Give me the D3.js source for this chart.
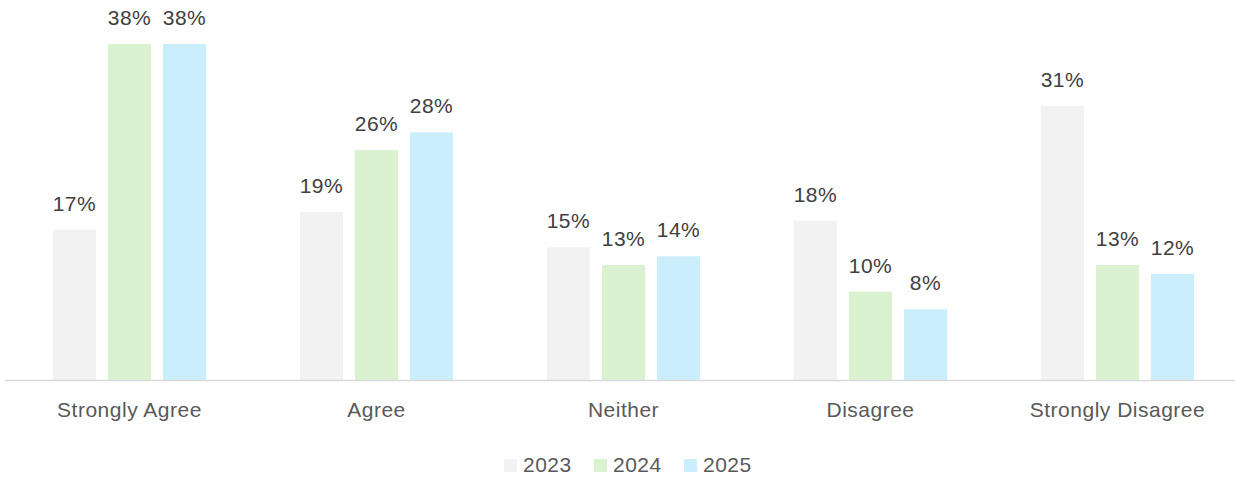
<!DOCTYPE html>
<html>
<head>
<meta charset="utf-8">
<script src="https://cdn.jsdelivr.net/npm/d3@7"></script>
<style>
  body { margin: 0; background: #fff; }
  svg text { font-family: "Liberation Sans", Arial, sans-serif; }
</style>
</head>
<body>
<div id="chart"></div>
<script>
var categories = ["Strongly Agree", "Agree", "Neither", "Disagree", "Strongly Disagree"];
var years = ["2023", "2024", "2025"];
var values2023 = [17, 19, 15, 18, 31];
var values2024 = [38, 26, 13, 10, 13];
var values2025 = [38, 28, 14, 8, 12];
var colors = ["#F2F2F2", "#DAF2D0", "#CAEEFB"];

var w = 1235, h = 479;
var margin = {left: 6, right: -6, top: 44, bottom: 99};
var seriesValues = [values2023, values2024, values2025];

var svg = d3.select("#chart").append("svg")
	.attr("width", w)
	.attr("height", h);

var x0 = d3.scaleBand()
	.domain(categories)
	.range([margin.left, w - margin.right])
	.paddingInner(0.38)
	.paddingOuter(0.19);

var x1 = d3.scaleBand()
	.domain(years)
	.range([0, x0.bandwidth()])
	.paddingInner(0.218);

var y = d3.scaleLinear()
	.domain([0, 38])
	.range([h - margin.bottom, margin.top]);

var rows = [];
categories.forEach(function(c, i) {
	years.forEach(function(yr, j) {
		rows.push({cat: c, year: yr, v: seriesValues[j][i], j: j});
	});
});

var g = svg.append("g");

g.selectAll("rect")
	.data(rows)
	.enter()
	.append("rect")
	.attr("x", function(d) { return x0(d.cat) + x1(d.year); })
	.attr("y", function(d) { return y(d.v); })
	.attr("width", x1.bandwidth())
	.attr("height", function(d) { return y(0) - y(d.v); })
	.attr("fill", function(d) { return colors[d.j]; });

g.selectAll(".lbl")
	.data(rows)
	.enter()
	.append("text")
	.attr("class", "lbl")
	.attr("x", function(d) { return x0(d.cat) + x1(d.year) + x1.bandwidth() / 2; })
	.attr("y", function(d) { return y(d.v) - 19; })
	.attr("text-anchor", "middle")
	.attr("font-size", "21px")
	.attr("letter-spacing", "0.5px")
	.attr("fill", "#404040")
	.text(function(d) { return d.v + "%"; });

// axis baseline
svg.append("line")
	.attr("x1", 5).attr("x2", w)
	.attr("y1", y(0) + 0.5).attr("y2", y(0) + 0.5)
	.attr("stroke", "#D9D9D9")
	.attr("stroke-width", 1.5);

svg.selectAll(".cat")
	.data(categories)
	.enter()
	.append("text")
	.attr("class", "cat")
	.attr("x", function(d) { return x0(d) + x0.bandwidth() / 2; })
	.attr("y", 417)
	.attr("text-anchor", "middle")
	.attr("font-size", "21px")
	.attr("letter-spacing", "0.5px")
	.attr("fill", "#595959")
	.text(function(d) { return d; });

// legend
var legend = svg.selectAll(".leg")
	.data(years)
	.enter()
	.append("g")
	.attr("class", "leg")
	.attr("transform", function(d, i) { return "translate(" + (504 + i * 90) + ",0)"; });

legend.append("rect")
	.attr("x", 0).attr("y", 459)
	.attr("width", 13).attr("height", 13)
	.attr("fill", function(d, i) { return colors[i]; });

legend.append("text")
	.attr("x", 19).attr("y", 472)
	.attr("font-size", "21px")
	.attr("letter-spacing", "0.5px")
	.attr("fill", "#595959")
	.text(function(d) { return d; });
</script>
</body>
</html>
